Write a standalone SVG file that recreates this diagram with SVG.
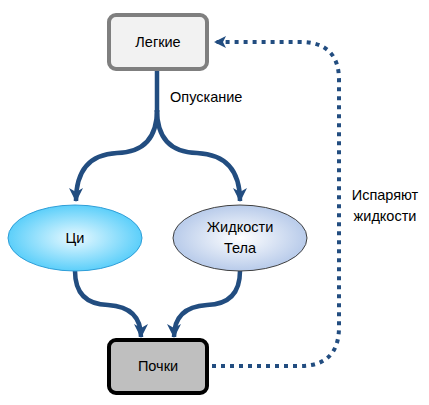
<svg xmlns="http://www.w3.org/2000/svg" width="429" height="405" viewBox="0 0 429 405">
<style>
  .lbl{font-family:"Liberation Sans",Arial,sans-serif;font-size:14.5px;fill:#000}
  .flow{fill:none;stroke:#224d80;stroke-width:4.5}
  .dot{fill:none;stroke:#224d80;stroke-width:4;stroke-dasharray:4 5}
</style>
<defs>
  <marker id="ah" markerUnits="userSpaceOnUse" markerWidth="16" markerHeight="16" viewBox="0 0 16 16" refX="13" refY="8" orient="auto">
    <path d="M0,1 L14,8 L0,15 L4,8 z" fill="#224d80"/>
  </marker>
  <marker id="ahd" markerUnits="userSpaceOnUse" markerWidth="14" markerHeight="14" viewBox="0 0 14 14" refX="12" refY="7" orient="auto">
    <path d="M0,1 L12,7 L0,13 L3,7 z" fill="#224d80"/>
  </marker>
  <radialGradient id="gci" cx="50%" cy="50%" r="50%">
    <stop offset="0" stop-color="#e8f9ff"/>
    <stop offset="1" stop-color="#5ccffa"/>
  </radialGradient>
  <radialGradient id="gzh" cx="50%" cy="50%" r="50%">
    <stop offset="0" stop-color="#ffffff"/>
    <stop offset="1" stop-color="#b8cbea"/>
  </radialGradient>
</defs>
<g id="connectors">
  <path class="flow" d="M157,70 L157,112"/>
  <path class="flow" d="M157,110 Q157,152 117,153 Q76,155 76,201" marker-end="url(#ah)"/>
  <path class="flow" d="M157,110 Q157,152 197,153 Q240,155 240,201" marker-end="url(#ah)"/>
  <path class="flow" d="M75,271 Q75,304 108,305 Q141,307 141,337" marker-end="url(#ah)"/>
  <path class="flow" d="M240,271 Q240,304 207,305 Q174,307 174,337" marker-end="url(#ah)"/>
  <path class="dot" d="M212,366 L300,366 Q339,366 339,327 L339,80 Q339,42 300,42 L214,42" marker-end="url(#ahd)"/>
  <text class="lbl" x="170" y="102">Опускание</text>
  <text class="lbl" x="385" y="200" text-anchor="middle">Испаряют</text>
  <text class="lbl" x="385" y="221" text-anchor="middle">жидкости</text>
</g>
<g id="lungs">
  <rect x="109" y="15" width="98" height="54" rx="7" fill="#f2f2f2" stroke="#7f7f7f" stroke-width="4"/>
  <text class="lbl" x="158" y="47" text-anchor="middle">Легкие</text>
</g>
<g id="ci">
  <ellipse cx="75" cy="238" rx="67" ry="33" fill="url(#gci)" stroke="#2e9ed8" stroke-width="1"/>
  <text class="lbl" x="75" y="243" text-anchor="middle">Ци</text>
</g>
<g id="fluids">
  <ellipse cx="240" cy="238" rx="67" ry="33" fill="url(#gzh)" stroke="#404040" stroke-width="1"/>
  <text class="lbl" x="240" y="232" text-anchor="middle">Жидкости</text>
  <text class="lbl" x="240" y="253" text-anchor="middle">Тела</text>
</g>
<g id="kidneys">
  <rect x="109" y="340" width="98" height="53" rx="7" fill="#bfbfbf" stroke="#000" stroke-width="4"/>
  <text class="lbl" x="158" y="371" text-anchor="middle">Почки</text>
</g>
</svg>
